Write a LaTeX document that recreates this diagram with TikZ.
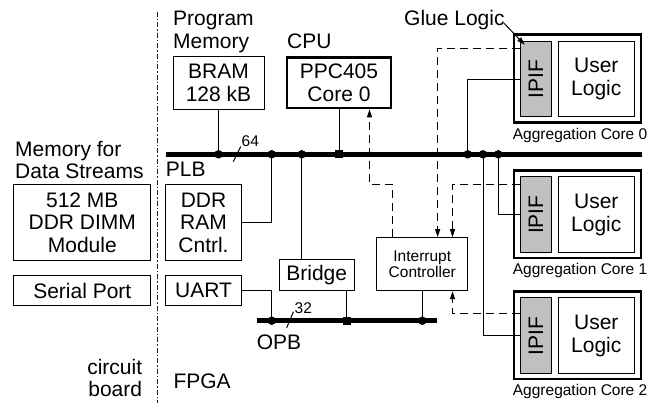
\documentclass[tikz,border=0pt]{standalone}
\usepackage{fontspec}
\setmainfont{Liberation Sans}
\usepackage{graphicx}
\usetikzlibrary{arrows.meta,calc}
\definecolor{ipifgray}{RGB}{192,192,192}
\newcommand\bigf{\fontsize{21}{22.5}\selectfont}
\newcommand\smallf{\fontsize{15.5}{16.5}\selectfont}
\begin{document}
\begin{tikzpicture}[x=1pt,y=-1pt,
  txt/.style={inner sep=0pt, font=\bigf},
  stxt/.style={inner sep=0pt, font=\smallf},
  box/.style={draw, line width=1pt, inner sep=0pt, align=center, font=\bigf},
  thickbox/.style={box, line width=2.6pt},
  bus/.style={line width=5pt},
  wire/.style={line width=1pt},
  sig/.style={line width=1pt, dash pattern=on 8pt off 5pt},
  arr/.style={-{Triangle[length=8pt,width=5pt]}},
  dot/.style={circle, fill, inner sep=0pt, minimum size=8.5pt},
  sq/.style={rectangle, fill, inner sep=0pt, minimum size=8pt},
  sep/.style={line width=1pt, black!85, dash pattern=on 5pt off 2pt on 1.5pt off 2pt}
]
\useasboundingbox (0,0) rectangle (662,403);

% separator
\coordinate (sepT) at (157.3,12);
\coordinate (sepB) at (157.3,403);
\draw[sep] (sepT) -- (sepB);

% free labels
\node[txt, anchor=north west, align=left] (progmem) at (173,11) {Program\\Memory};
\node[txt, anchor=base west] (cpulab) at (287,49) {CPU};
\node[txt, anchor=base west] (glue) at (404,26) {Glue Logic};
\node[txt, anchor=north west, align=left] (memfor) at (15,140.7) {Memory for\\Data Streams};
\node[txt, anchor=base west] (plb) at (165.7,176.7) {PLB};
\node[txt, anchor=base west] (opb) at (256.7,350) {OPB};
\node[txt, anchor=north east, align=right] (board) at (142.3,359) {circuit\\board};
\node[txt, anchor=base west] (fpga) at (173.3,389) {FPGA};
\node[stxt, anchor=base west] (n64) at (241.5,146.5) {64};
\node[stxt, anchor=base west] (n32) at (294.5,313.3) {32};

% boxes
\node[box, minimum width=91pt, minimum height=53.3pt] (bram) at (218.5,82.7) {BRAM\\128 kB};
\node[thickbox, minimum width=104pt, minimum height=50.7pt] (cpu) at (339,82.7) {PPC405\\Core 0};
\node[box, minimum width=136.7pt, minimum height=76.4pt] (mem) at (82.3,222.5) {512 MB\\DDR DIMM\\Module};
\node[box, minimum width=75.6pt, minimum height=76.4pt] (ddr) at (203.5,222.5) {DDR\\RAM\\Cntrl.};
\node[box, minimum width=136.7pt, minimum height=30pt] (serial) at (82.3,290.7) {Serial Port};
\node[box, minimum width=75.6pt, minimum height=30pt] (uart) at (203.5,290.7) {UART};
\node[box, minimum width=75.3pt, minimum height=30.7pt] (bridge) at (316.7,275.3) {Bridge};
\node[box, font=\smallf, minimum width=90.7pt, minimum height=53pt] (intc) at (422.3,264.2) {Interrupt\\Controller};

% aggregation cores
\foreach \i/\T in {0/33.3,1/169,2/290}{
  \node[thickbox, minimum width=126.8pt, minimum height=87.9pt] (core\i) at (577.4,\T+45.25) {};
  \node[box, fill=ipifgray, minimum width=30.3pt, minimum height=75.5pt] (ipif\i) at (535.85,\T+45.75) {\rotatebox{90}{IPIF}};
  \node[box, minimum width=76pt, minimum height=75.5pt] (user\i) at (596.3,\T+45.75) {User\\Logic};
  \node[stxt, anchor=base west] (agg\i) at (512.7,\T+105.8) {Aggregation Core \i};
}

% buses
\coordinate (plbL) at (165.7,154.3);
\coordinate (plbR) at (641.7,154.3);
\coordinate (opbL) at (256.7,320.7);
\coordinate (opbR) at (437.3,320.7);
\draw[bus] (plbL) -- (plbR);
\draw[bus] (opbL) -- (opbR);

% bus width marks
\coordinate (w64a) at (233.3,161.7);
\coordinate (w64b) at (240.7,146.5);
\coordinate (w32a) at (286.7,327.7);
\coordinate (w32b) at (293.5,311.7);
\draw[wire] (w64a) -- (w64b);
\draw[wire] (w32a) -- (w32b);

% junctions
\node[dot] (d1) at (bram.south |- plbL) {};
\node[dot] (d2) at (271.7,154.3) {};
\node[dot] (d3) at (301.7,154.3) {};
\node[sq]  (s1) at (cpu.south |- plbL) {};
\node[dot] (d4) at (467.7,154.3) {};
\node[dot] (d5) at (483,154.3) {};
\node[dot] (d6) at (498.3,154.3) {};
\node[dot] (o1) at (271.7,320.7) {};
\node[sq]  (o2) at (346.7,320.7) {};
\node[dot] (o3) at (intc.south |- opbL) {};

% solid connections
\draw[wire] (bram.south) -- (d1.center);
\draw[wire] (ddr.east) -| (d2.center);
\draw[wire] (d3.center) -- (d3 |- bridge.north);
\draw[wire] (cpu.south) -- (s1.center);
\draw[wire] (d4.center) |- (ipif0.west);
\draw[wire] (d6.center) |- (ipif1.west);
\draw[wire] (d5.center) |- (ipif2.west);
\draw[wire] (uart.east) -| (o1.center);
\draw[wire] (o2 |- bridge.south) -- (o2.center);
\draw[wire] (intc.south) -- (o3.center);

% interrupt signals
\coordinate (c1) at (392.3,184.3);
\coordinate (c2) at (369.5,184.3);
\coordinate (c3) at (437.7,49);
\coordinate (c4) at (452.5,184.3);
\coordinate (c5) at (452.5,313.3);
\draw[sig,arr] (intc.north -| c1) -- (c1) -- (c2) -- (c2 |- cpu.south);
\draw[sig,arr] (ipif0.west |- c3) -- (c3) -- (c3 |- intc.north);
\draw[sig,arr] (ipif1.west |- c4) -- (c4) -- (c4 |- intc.north);
\draw[sig,arr] (ipif2.west |- c5) -- (c5) -- (c5 |- intc.south);

% glue logic pointer
\coordinate (g1) at ($(glue.base east)+(-1,-3)$);
\coordinate (g2) at ($(ipif0.north west)+(4.5,4)$);
\draw[wire,arr] (g1) -- (g2);
\end{tikzpicture}
\end{document}
